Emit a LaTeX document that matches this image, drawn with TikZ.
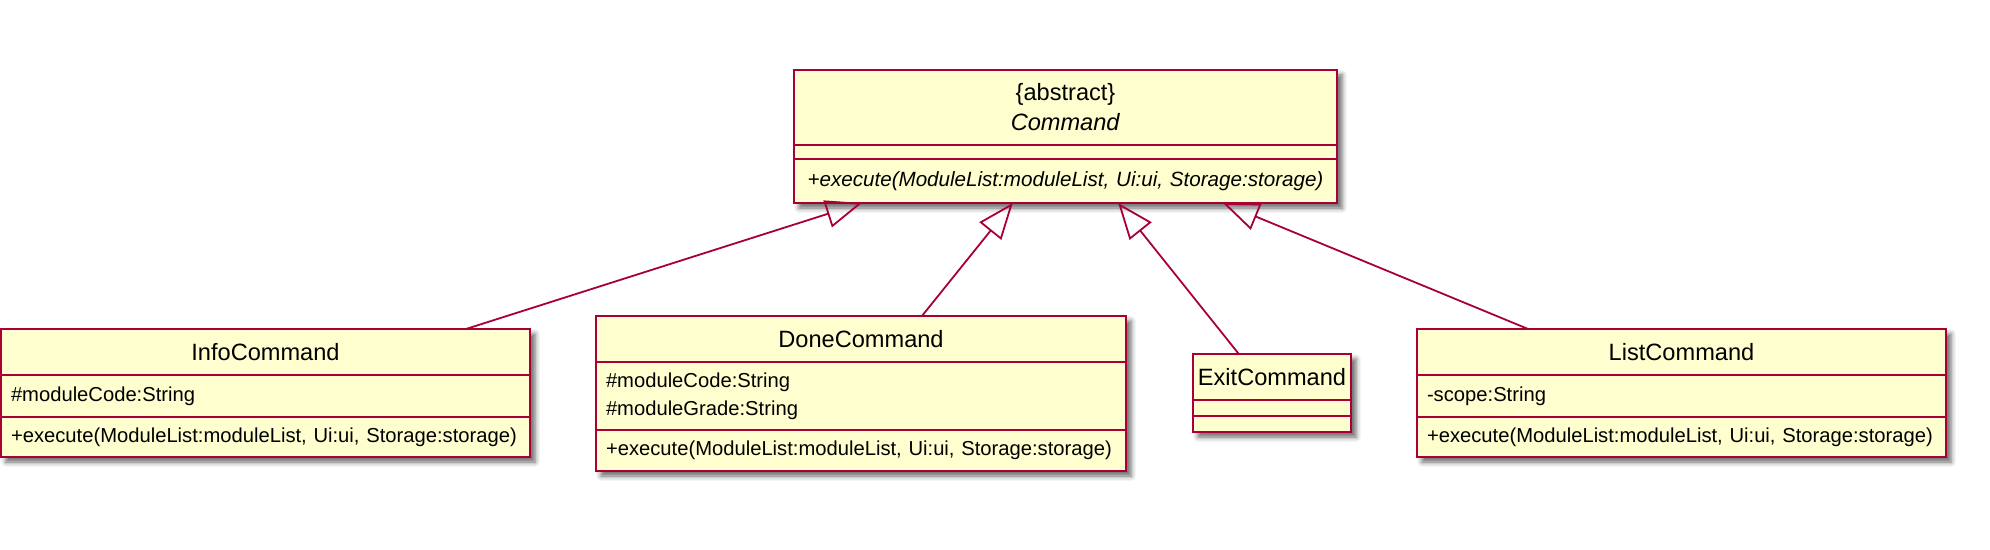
\documentclass[tikz,border=0pt]{standalone}
\usepackage{fontspec}
\setmainfont{Liberation Sans}
\definecolor{umlborder}{RGB}{168,0,54}
\definecolor{umlfill}{RGB}{254,254,206}
\usetikzlibrary{arrows.meta,positioning,fit,backgrounds,calc,shadows.blur}

\tikzset{
  umlpart/.style={draw=umlborder, fill=umlfill, line width=1pt, outer sep=0pt,
    inner xsep=5pt, inner ysep=0pt, font=\fontsize{10.1}{14}\selectfont},
  umlname/.style={umlpart, minimum height=23pt, align=center,
    font=\fontsize{11.8}{15}\selectfont},
  umlmember/.style={umlpart, align=left},
  umlbox/.style={fill=umlfill, inner sep=0pt,
    blur shadow={shadow xshift=2.5pt, shadow yshift=-2.5pt,
      shadow blur radius=2.5pt, shadow opacity=60}},
  extends/.style={draw=umlborder, line width=0.9pt,
    -{Triangle[open, length=18pt, width=14pt]}},
}

\begin{document}
\begin{tikzpicture}[x=0.5pt, y=-0.5pt]
\useasboundingbox (0,0) rectangle (1990,550);

% abstract parent
\node[umlname, anchor=north west, text width=261.5pt, minimum height=37.5pt] (cmdname) at (794,70)
  {\{abstract\}\\\textit{Command}};
\node[umlmember, text width=261.5pt, minimum height=7pt, below=0pt of cmdname] (cmdattr) {};
\node[umlmember, text width=261.5pt, minimum height=22pt, below=0pt of cmdattr, align=center,
  font=\fontsize{10.3}{14}\selectfont\itshape] (cmdmeth)
  {+execute(ModuleList:moduleList, Ui:ui, Storage:storage)};

% subclasses
\node[umlname, anchor=north west, text width=254.5pt] (infoname) at (1,329) {InfoCommand};
\node[umlmember, text width=254.5pt, minimum height=21pt, below=0pt of infoname] (infoattr)
  {\#moduleCode:String};
\node[umlmember, text width=254.5pt, minimum height=20pt, below=0pt of infoattr] (infometh)
  {+execute(ModuleList:moduleList, Ui:ui, Storage:storage)};

\node[umlname, anchor=north west, text width=255pt] (donename) at (596,316) {DoneCommand};
\node[umlmember, text width=255pt, minimum height=34pt, below=0pt of donename] (doneattr)
  {\#moduleCode:String\\\#moduleGrade:String};
\node[umlmember, text width=255pt, minimum height=20.5pt, below=0pt of doneattr] (donemeth)
  {+execute(ModuleList:moduleList, Ui:ui, Storage:storage)};

\node[umlname, anchor=north west, text width=75pt, inner xsep=2pt] (exitname) at (1193,354) {ExitCommand};
\node[umlmember, text width=75pt, inner xsep=2pt, minimum height=8pt, below=0pt of exitname] (exitattr) {};
\node[umlmember, text width=75pt, inner xsep=2pt, minimum height=8pt, below=0pt of exitattr] (exitmeth) {};

\node[umlname, anchor=north west, text width=254.5pt] (listname) at (1417,329) {ListCommand};
\node[umlmember, text width=254.5pt, minimum height=21pt, below=0pt of listname] (listattr)
  {-scope:String};
\node[umlmember, text width=254.5pt, minimum height=20pt, below=0pt of listattr] (listmeth)
  {+execute(ModuleList:moduleList, Ui:ui, Storage:storage)};

\begin{scope}[on background layer]
  \node[umlbox, fit=(cmdname)(cmdmeth)] (cmdbox) {};
  \node[umlbox, fit=(infoname)(infometh)] (infobox) {};
  \node[umlbox, fit=(donename)(donemeth)] (donebox) {};
  \node[umlbox, fit=(exitname)(exitmeth)] (exitbox) {};
  \node[umlbox, fit=(listname)(listmeth)] (listbox) {};
\end{scope}

% generalisation arrows
\draw[extends] ($(infoname.north west)!0.879!(infoname.north east)$)
  -- ($(cmdmeth.south west)!0.125!(cmdmeth.south east)$);
\draw[extends] ($(donename.north west)!0.615!(donename.north east)$)
  -- ($(cmdmeth.south west)!0.403!(cmdmeth.south east)$);
\draw[extends] ($(exitname.north west)!0.29!(exitname.north east)$)
  -- ($(cmdmeth.south west)!0.597!(cmdmeth.south east)$);
\draw[extends] ($(listname.north west)!0.21!(listname.north east)$)
  -- ($(cmdmeth.south west)!0.79!(cmdmeth.south east)$);
\end{tikzpicture}
\end{document}
